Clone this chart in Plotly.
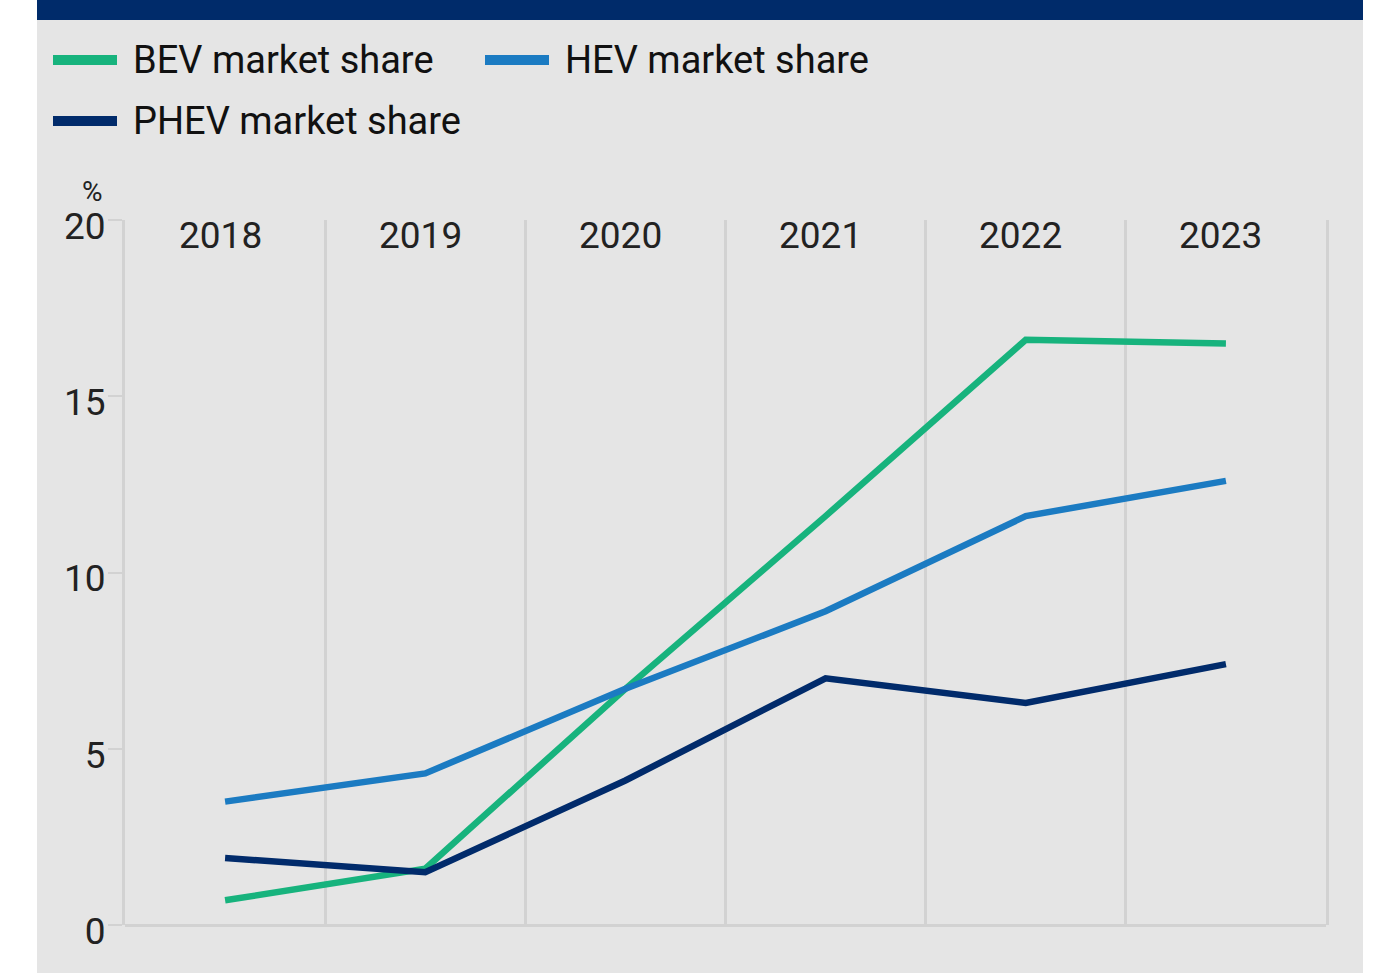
import plotly.graph_objects as go

years = ["2018", "2019", "2020", "2021", "2022", "2023"]
series_names = ["BEV market share", "HEV market share", "PHEV market share"]
bev_share = [0.7, 1.6, 6.7, 11.6, 16.6, 16.5]
hev_share = [3.5, 4.3, 6.7, 8.9, 11.6, 12.6]
phev_share = [1.9, 1.5, 4.1, 7.0, 6.3, 7.4]
y_ticks = [0, 5, 10, 15, 20]

colors = ["#17b37d", "#1b7bc2", "#012b6b"]
navy = "#002b6a"
panel = "#e5e5e5"
grid = "#d2d2d2"
font_family = "Roboto"

W, H = 1383, 973
L, R, T, B = 125, 1383 - 1326, 220, 973 - 925
pw, ph = W - L - R, H - T - B


def px_x(x):
    # screen pixel -> paper coordinate
    return (x - L) / pw


def px_y(y):
    return (H - B - y) / ph


fig = go.Figure()
for name, vals, col in zip(series_names, [bev_share, hev_share, phev_share], colors):
    fig.add_trace(go.Scatter(x=years, y=vals, name=name, mode="lines",
                             line={"color": col, "width": 6.5}, showlegend=False))

shapes = [
    # grey panel and navy header band
    dict(type="rect", xref="paper", yref="paper", x0=px_x(37), x1=px_x(1363),
         y0=px_y(H + 20), y1=px_y(0), fillcolor=panel, line_width=0, layer="below"),
    dict(type="rect", xref="paper", yref="paper", x0=px_x(37), x1=px_x(1363),
         y0=px_y(20), y1=px_y(0), fillcolor=navy, line_width=0, layer="below"),
]
annotations = [
    dict(text="%", xref="paper", yref="paper", x=px_x(92), y=px_y(191),
         xanchor="center", yanchor="middle", showarrow=False,
         font={"size": 28, "color": "#222222", "family": font_family}),
]

# year labels sitting just inside the top of the plot (category index positions)
for i, yr in enumerate(years):
    annotations.append(dict(text=yr, x=i, xref="x", y=1, yref="paper",
                            xanchor="center", yanchor="top", xshift=-5, yshift=8,
                            showarrow=False,
                            font={"size": 37, "color": "#222222", "family": font_family}))

# hand-made legend with long swatches
legend_pos = [(53, 60), (485, 60), (53, 121)]
for name, col, (lx, ly) in zip(series_names, colors, legend_pos):
    shapes.append(dict(type="line", xref="paper", yref="paper", x0=px_x(lx), x1=px_x(lx + 64),
                       y0=px_y(ly), y1=px_y(ly), line={"color": col, "width": 10}))
    annotations.append(dict(text=name, xref="paper", yref="paper", x=px_x(lx + 78), y=px_y(ly),
                            xanchor="left", yanchor="middle", showarrow=False,
                            font={"size": 38, "color": "#111111", "family": font_family}))

fig.update_layout(
    width=W, height=H,
    margin={"l": L, "r": R, "t": T, "b": B},
    paper_bgcolor="white",
    plot_bgcolor=panel,
    font={"family": font_family, "color": "#222222"},
    shapes=shapes,
    annotations=annotations,
    showlegend=False,
)
fig.update_xaxes(
    type="category", range=[-0.5, 5.5], showticklabels=False,
    tickson="boundaries", showgrid=True, gridcolor=grid, gridwidth=3,
    ticks="", showline=False, zeroline=False,
)
fig.update_yaxes(
    range=[0, 20], tickvals=y_ticks, showgrid=False, zeroline=True, zerolinecolor=grid,
    zerolinewidth=3, ticks="outside", ticklen=14, tickcolor=grid, tickwidth=2,
    tickfont={"size": 37, "color": "#222222"}, ticklabelshift=6, ticklabelstandoff=-5,
    showline=True, mirror=True, linecolor=grid, linewidth=3,
)

# drop the default page margin so the figure sits at the window's corner
fig.write_html("out.html", config={"displayModeBar": False},
               post_script="document.body.style.margin = '0';")
